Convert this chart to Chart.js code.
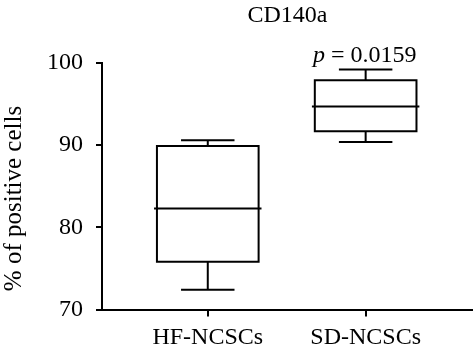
<!DOCTYPE html>
<html>
<head>
<meta charset="utf-8">
<script src="https://cdn.jsdelivr.net/npm/chart.js@4"></script>
<style>
html,body{margin:0;padding:0;background:#fff;}
#wrap{width:473px;height:355px;position:relative;}
</style>
</head>
<body>
<div id="wrap"><canvas id="c" width="473" height="355"></canvas></div>
<script>
const categories = ['HF-NCSCs', 'SD-NCSCs'];
const mins    = [72.4, 90.4];
const q1s     = [75.8, 91.7];
const medians = [82.3, 94.7];
const q3s     = [89.9, 97.9];
const maxs    = [90.6, 99.2];
const yTicks  = [70, 80, 90, 100];
const titleText = 'CD140a';
const yTitle = '% of positive cells';
const pValue = '0.0159';

const FONT = '"Liberation Serif", "Times New Roman", serif';
const FS = 24;
const BOX_HW = 0.322, MED_HW = 0.334, CAP_HW = 0.163;

const datasets = categories.map((c, i) => {
  const x = i + 1;
  const gap = {x: x, y: null};
  const pts = [
    {x: x - BOX_HW, y: q1s[i]}, {x: x + BOX_HW, y: q1s[i]}, {x: x + BOX_HW, y: q3s[i]}, {x: x - BOX_HW, y: q3s[i]}, {x: x - BOX_HW, y: q1s[i]}, gap,
    {x: x - MED_HW, y: medians[i]}, {x: x + MED_HW, y: medians[i]}, gap,
    {x: x, y: q3s[i]}, {x: x, y: maxs[i]}, gap,
    {x: x - CAP_HW, y: maxs[i]}, {x: x + CAP_HW, y: maxs[i]}, gap,
    {x: x, y: q1s[i]}, {x: x, y: mins[i]}, gap,
    {x: x - CAP_HW, y: mins[i]}, {x: x + CAP_HW, y: mins[i]}
  ];
  return {
    label: c, data: pts, showLine: true, spanGaps: false,
    borderColor: '#000', borderWidth: 2, pointRadius: 0, pointHoverRadius: 0,
    borderCapStyle: 'square', borderJoinStyle: 'miter', fill: false, clip: false
  };
});

const textPlugin = {
  id: 'texts',
  afterDraw(chart) {
    const ctx = chart.ctx, a = chart.chartArea;
    const xs = chart.scales.x;
    ctx.save();
    ctx.fillStyle = '#000';
    const italic = 'italic ' + FS + 'px ' + FONT, normal = FS + 'px ' + FONT;
    ctx.font = normal;
    ctx.textAlign = 'center';
    ctx.textBaseline = 'alphabetic';
    ctx.fillText(titleText, (a.left + a.right) / 2, 22);
    // p value above SD box
    ctx.font = italic; const wp = ctx.measureText('p').width;
    ctx.font = normal; const rest = ' = ' + pValue; const wr = ctx.measureText(rest).width;
    const cx = xs.getPixelForValue(2) - 1, by = 62;
    const sx = cx - (wp + wr) / 2;
    ctx.textAlign = 'left';
    ctx.font = italic; ctx.fillText('p', sx, by);
    ctx.font = normal; ctx.fillText(rest, sx + wp, by);
    // y title
    ctx.translate(14, 198.5);
    ctx.rotate(-Math.PI / 2);
    ctx.textAlign = 'center';
    ctx.textBaseline = 'middle';
    ctx.font = '25px ' + FONT;
    ctx.fillText(yTitle, 0, 0);
    ctx.restore();
  }
};

new Chart(document.getElementById('c'), {
  type: 'scatter',
  data: { datasets },
  options: {
    responsive: false,
    animation: false,
    events: [],
    layout: { padding: { left: 0, right: 0, top: 63, bottom: 0 } },
    plugins: { legend: { display: false }, tooltip: { enabled: false }, title: { display: false } },
    scales: {
      x: {
        type: 'linear', min: 0.33, max: 2.68,
        afterBuildTicks: s => { s.ticks = categories.map((c, i) => ({ value: i + 1 })); },
        afterFit: s => { s.height = 45.5; },
        ticks: { callback: v => categories[v - 1] || '', color: '#000', font: { family: FONT, size: FS }, padding: 7, maxRotation: 0, autoSkip: false },
        grid: { drawOnChartArea: false, drawTicks: true, tickLength: 7, color: '#000', lineWidth: 2 },
        border: { display: true, color: '#000', width: 2 }
      },
      y: {
        min: 70, max: 100,
        afterBuildTicks: s => { s.ticks = yTicks.map(v => ({ value: v })); },
        afterFit: s => { s.width = 102; },
        ticks: { color: '#000', font: { family: FONT, size: FS }, padding: 13 },
        grid: { drawOnChartArea: false, drawTicks: true, tickLength: 6, color: '#000', lineWidth: 2 },
        border: { display: true, color: '#000', width: 2 }
      }
    }
  },
  plugins: [textPlugin]
});
</script>
</body>
</html>
